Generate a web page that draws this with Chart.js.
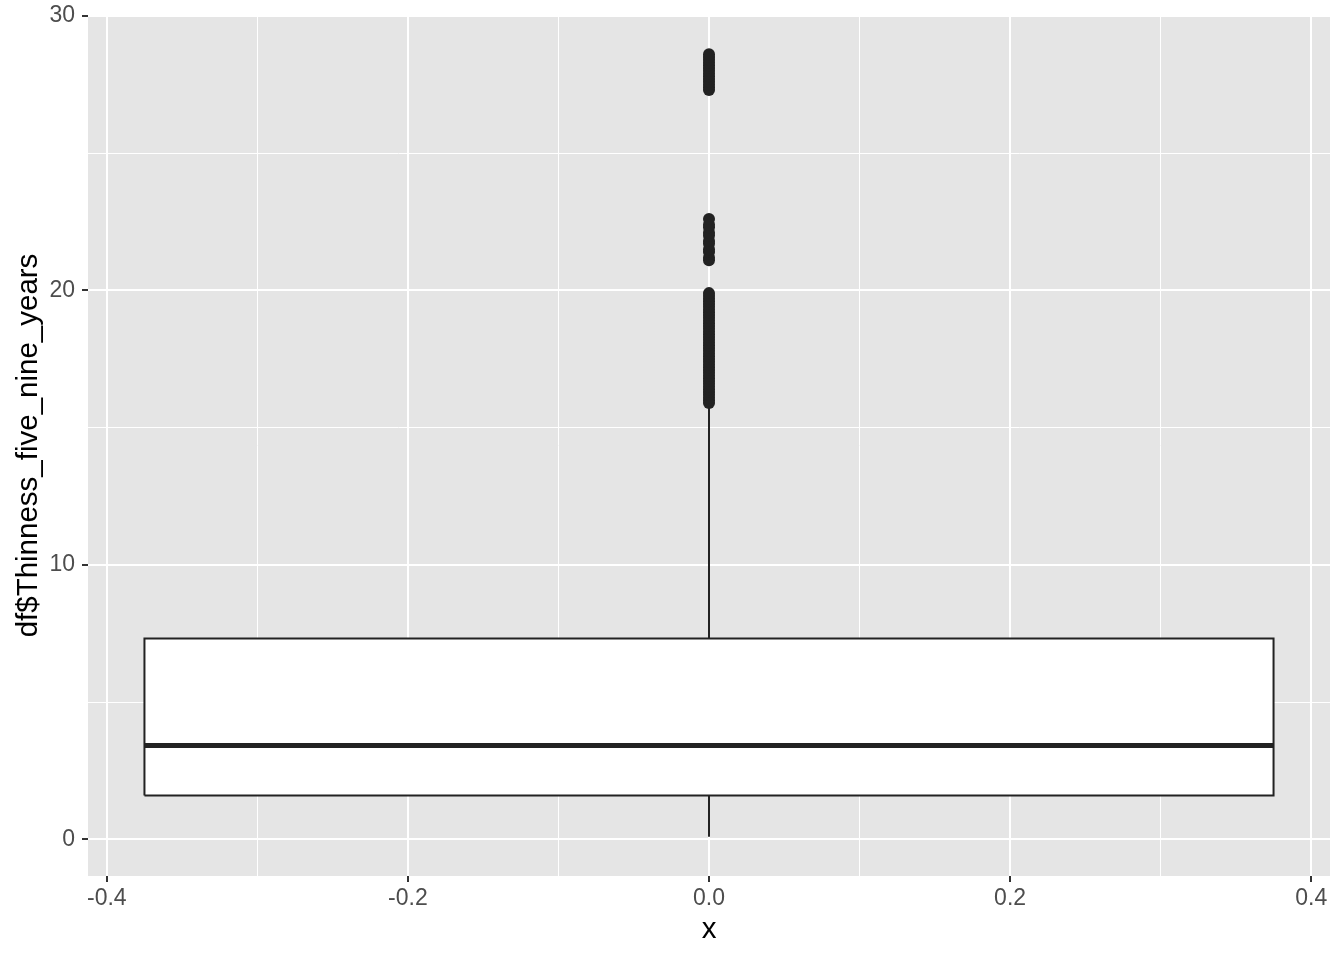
<!DOCTYPE html>
<html>
<head>
<meta charset="utf-8">
<script src="https://cdn.jsdelivr.net/npm/chart.js@4"></script>
<style>
  html, body { margin: 0; padding: 0; background: #fff; }
  #wrap { width: 1344px; height: 960px; }
</style>
</head>
<body>
<div id="wrap"><canvas id="box"></canvas></div>
<script>
// box statistics
const boxEdges = [-0.375, 0.375];
const quartiles = [1.6, 3.42, 7.32];   // Q1, median, Q3
const whiskers = [0.1, 15.85];
const outliers = [
  15.9, 16.0, 16.1, 16.2, 16.3, 16.4, 16.5, 16.6, 16.7, 16.8, 16.9,
  17.0, 17.1, 17.2, 17.3, 17.4, 17.5, 17.6, 17.7, 17.8, 17.9,
  18.0, 18.1, 18.2, 18.3, 18.4, 18.5, 18.6, 18.7, 18.8, 18.9,
  19.0, 19.1, 19.2, 19.3, 19.4, 19.5, 19.6, 19.7, 19.8, 19.9,
  21.1, 21.2, 21.4, 21.5, 21.7, 21.8, 22.0, 22.1, 22.3, 22.4, 22.6,
  27.3, 27.4, 27.5, 27.6, 27.7, 27.8, 27.9, 28.0, 28.1, 28.2, 28.3, 28.4, 28.5, 28.6
];
const xTicks = [-0.4, -0.3, -0.2, -0.1, 0, 0.1, 0.2, 0.3, 0.4];
const yTicks = [0, 5, 10, 15, 20, 25, 30];

const FONT = 'Liberation Sans, Arial, sans-serif';
const ink = '#222';

Chart.defaults.font.family = FONT;

const panelBg = {
  id: 'panelBg',
  beforeDraw(chart) {
    const { ctx, chartArea: a } = chart;
    ctx.save();
    ctx.fillStyle = '#E5E5E5';
    ctx.fillRect(a.left, a.top, a.right - a.left, a.bottom - a.top);
    ctx.restore();
  }
};

const isMajorX = v => Math.abs(Math.round(v * 10)) % 2 === 0;
const isMajorY = v => v % 10 === 0;

const [q1, med, q3] = quartiles;
const [lo, hi] = boxEdges;

new Chart(document.getElementById('box'), {
  type: 'scatter',
  plugins: [panelBg],
  data: {
    datasets: [
      {
        // box body
        data: [{x: lo, y: q1}, {x: hi, y: q1}, {x: hi, y: q3}, {x: lo, y: q3}, {x: lo, y: q1}],
        showLine: true, fill: 'shape', backgroundColor: '#fff',
        borderColor: ink, borderWidth: 2, pointRadius: 0, order: 3
      },
      {
        // median
        data: [{x: lo, y: med}, {x: hi, y: med}],
        showLine: true, borderColor: ink, borderWidth: 5, pointRadius: 0, order: 2
      },
      {
        data: [{x: 0, y: whiskers[0]}, {x: 0, y: q1}],
        showLine: true, borderColor: ink, borderWidth: 2, pointRadius: 0, order: 2
      },
      {
        data: [{x: 0, y: q3}, {x: 0, y: whiskers[1]}],
        showLine: true, borderColor: ink, borderWidth: 2, pointRadius: 0, order: 2
      },
      {
        data: outliers.map(v => ({x: 0, y: v})),
        pointRadius: 6, pointBackgroundColor: ink, pointBorderWidth: 0, order: 1
      }
    ]
  },
  options: {
    responsive: true,
    maintainAspectRatio: false,
    animation: false,
    layout: { padding: { left: 0, right: 14, top: 15, bottom: 0 } },
    plugins: { legend: { display: false }, tooltip: { enabled: false } },
    scales: {
      x: {
        type: 'linear', min: -0.4125, max: 0.4125,
        afterBuildTicks: s => { s.ticks = xTicks.map(v => ({ value: v })); },
        afterFit: s => { s.height = 84; s.paddingLeft = 0; s.paddingRight = 0; },
        border: { display: false },
        grid: {
          color: '#fff',
          lineWidth: c => isMajorX(c.tick.value) ? 2 : 1,
          tickColor: c => isMajorX(c.tick.value) ? '#333' : 'rgba(0,0,0,0)',
          tickLength: 6, tickWidth: 2
        },
        ticks: {
          color: '#4D4D4D', font: { size: 23 }, padding: 3,
          autoSkip: false, maxRotation: 0,
          callback: v => isMajorX(v) ? v.toFixed(1) : ''
        },
        title: { display: true, text: 'x', color: '#000', font: { size: 29.5 }, padding: { top: 0, bottom: 12 } }
      },
      y: {
        type: 'linear', min: -1.33, max: 30.03,
        afterBuildTicks: s => { s.ticks = yTicks.map(v => ({ value: v })); },
        afterFit: s => { s.width = 88; s.paddingTop = 0; s.paddingBottom = 0; },
        border: { display: false },
        grid: {
          color: '#fff',
          lineWidth: c => isMajorY(c.tick.value) ? 2 : 1,
          tickColor: c => isMajorY(c.tick.value) ? '#333' : 'rgba(0,0,0,0)',
          tickLength: 6, tickWidth: 2
        },
        ticks: {
          color: '#4D4D4D', font: { size: 23 }, padding: 7,
          autoSkip: false,
          callback: v => isMajorY(v) ? String(v) : ''
        },
        title: { display: true, text: 'df$Thinness_five_nine_years', color: '#000', font: { size: 29.5 }, padding: { top: 11, bottom: 0 } }
      }
    }
  }
});
</script>
</body>
</html>
